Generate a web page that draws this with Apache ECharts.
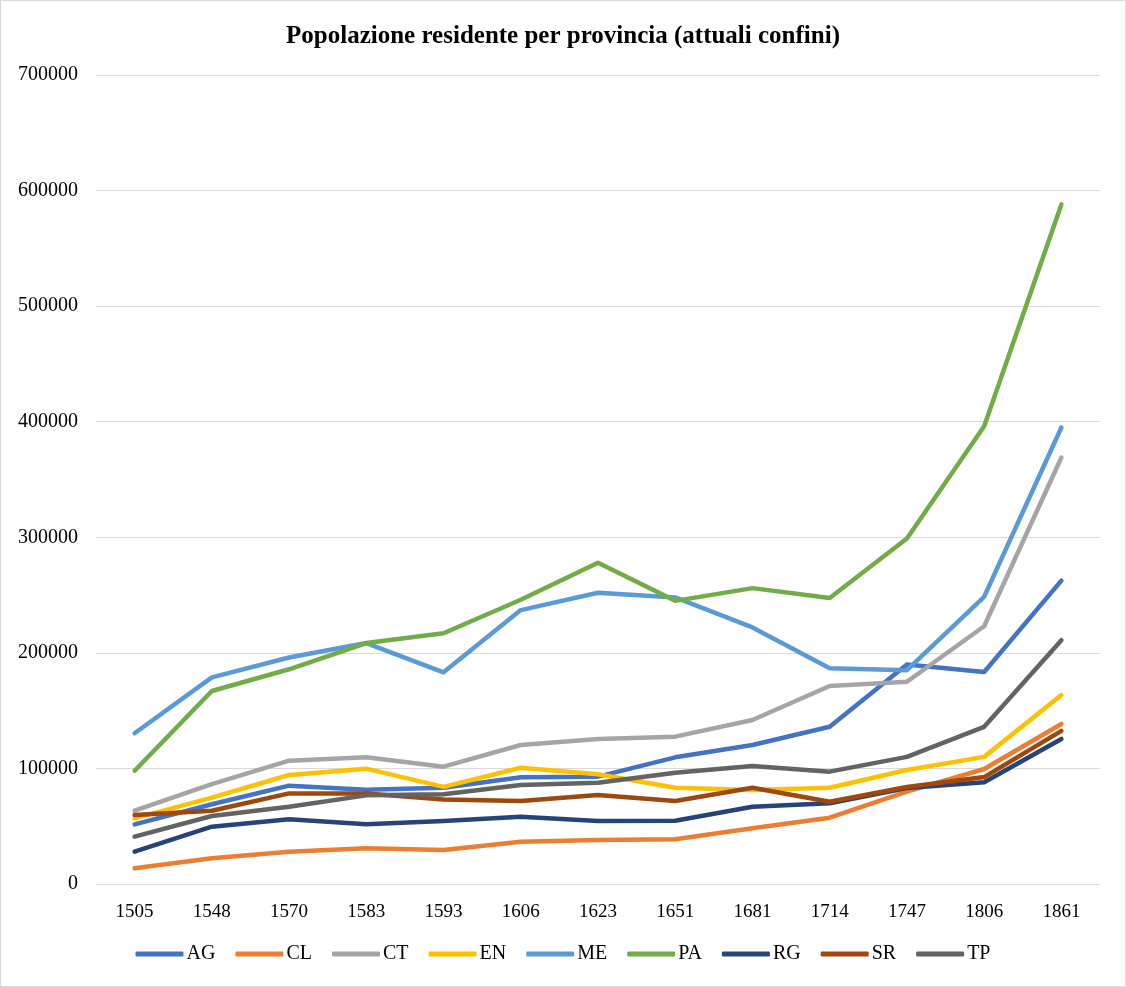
<!DOCTYPE html>
<html>
<head>
<meta charset="utf-8">
<script src="https://cdn.jsdelivr.net/npm/echarts@6/dist/echarts.min.js"></script>
<style>
html,body{margin:0;padding:0;background:#fff;}
#c{width:1124px;height:985px;border:1px solid #d9d9d9;}
</style>
</head>
<body>
<div id="c"></div>
<script>
const categories = ['1505','1548','1570','1583','1593','1606','1623','1651','1681','1714','1747','1806','1861'];
const AG = [51600, 69000, 85100, 81600, 83300, 92300, 92900, 109600, 120300, 136100, 190000, 183500, 262500];
const CL = [13600, 22200, 28000, 30900, 29400, 36600, 38100, 38700, 48200, 57400, 80000, 99500, 138500];
const CT = [63400, 86500, 106700, 109600, 101500, 120300, 125500, 127500, 141900, 171300, 175000, 223000, 369000];
const EN = [56800, 74700, 94300, 99800, 84000, 100600, 94900, 83300, 81300, 83300, 98600, 110000, 163500];
const ME = [130400, 178800, 196000, 208500, 183200, 237000, 252000, 248000, 222000, 186600, 185000, 248500, 395000];
const PA = [98000, 167000, 185800, 208500, 217000, 246000, 278000, 245000, 256000, 247500, 299000, 396000, 588000];
const RG = [28000, 49600, 56000, 51600, 54500, 58200, 54500, 54800, 66900, 69800, 83000, 88000, 125500];
const SR = [59700, 63400, 78400, 78400, 73200, 71800, 77000, 71800, 83300, 71200, 84000, 92500, 132500];
const TP = [41000, 58800, 66900, 76700, 77600, 85700, 87700, 96300, 102100, 97200, 110000, 136000, 211000];

const names = ['AG','CL','CT','EN','ME','PA','RG','SR','TP'];
const dataSets = [AG, CL, CT, EN, ME, PA, RG, SR, TP];
const colors = ['#4472C4','#ED7D31','#A5A5A5','#FFC000','#5B9BD5','#70AD47','#264478','#9E480E','#636363'];

const chart = echarts.init(document.getElementById('c'));
const font = '"Liberation Serif", "Times New Roman", serif';
chart.setOption({
  animation: false,
  color: colors,
  title: {
    text: 'Popolazione residente per provincia (attuali confini)',
    left: 'center',
    top: 18,
    textStyle: {fontFamily: font, fontWeight: 'bold', fontSize: 25, color: '#000'}
  },
  legend: {
    top: 938,
    left: 'center',
    icon: 'roundRect',
    itemWidth: 48,
    itemHeight: 5,
    itemGap: 20,
    textStyle: {fontFamily: font, fontSize: 20, color: '#000', padding: [0,0,0,-2]},
    data: names
  },
  grid: {left: 95, right: 25, top: 74, bottom: 102, containLabel: false},
  xAxis: {
    type: 'category',
    data: categories,
    boundaryGap: true,
    axisLine: {show: false},
    axisTick: {show: false},
    axisLabel: {fontFamily: font, fontSize: 19, color: '#000', margin: 19}
  },
  yAxis: {
    type: 'value',
    min: 0,
    max: 700000,
    interval: 100000,
    axisLine: {show: false},
    axisTick: {show: false},
    splitLine: {lineStyle: {color: '#d9d9d9', width: 1}},
    axisLabel: {fontFamily: font, fontSize: 20, color: '#000', margin: 18, formatter: v => String(v)}
  },
  series: names.map((n, i) => ({
    name: n,
    type: 'line',
    data: dataSets[i],
    symbol: 'none',
    lineStyle: {width: 4.5, color: colors[i], cap: 'round', join: 'round'},
    itemStyle: {color: colors[i]}
  }))
});
</script>
</body>
</html>
